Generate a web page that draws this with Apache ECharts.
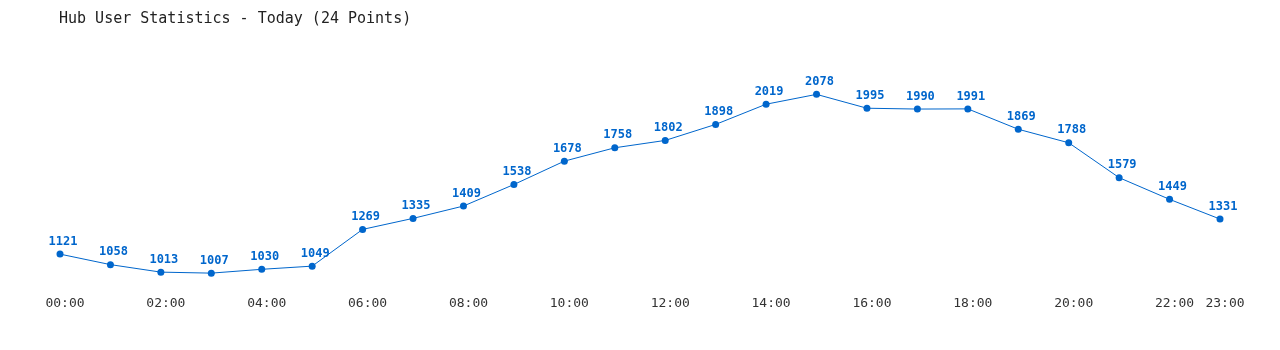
<!DOCTYPE html>
<html>
<head>
<meta charset="utf-8">
<script src="https://cdn.jsdelivr.net/npm/echarts@6/dist/echarts.min.js"></script>
<style>
html,body{margin:0;padding:0;background:#fff;}
#chart{width:1280px;height:350px;}
</style>
</head>
<body>
<div id="chart"></div>
<script>
const titleText = 'Hub User Statistics - Today (24 Points)';
const hours = ['00:00','01:00','02:00','03:00','04:00','05:00','06:00','07:00','08:00','09:00','10:00','11:00','12:00','13:00','14:00','15:00','16:00','17:00','18:00','19:00','20:00','21:00','22:00','23:00'];
const users = [1121,1058,1013,1007,1030,1049,1269,1335,1409,1538,1678,1758,1802,1898,2019,2078,1995,1990,1991,1869,1788,1579,1449,1331];

const mono = '"DejaVu Sans Mono","Liberation Mono",monospace';
const chart = echarts.init(document.getElementById('chart'), null, {renderer:'canvas'});
chart.setOption({
  animation:false,
  backgroundColor:'#ffffff',
  title:{
    text:titleText,
    left:54, top:7,
    textStyle:{fontFamily:mono, fontSize:15, fontWeight:'normal', color:'#222'}
  },
  grid:{left:60, right:60, top:74, height:217},
  xAxis:{
    type:'category',
    data:hours,
    boundaryGap:false,
    axisLine:{show:false},
    axisTick:{show:false},
    splitLine:{show:false},
    axisLabel:{
      interval:function(i){ return i%2===0 || i===hours.length-1; },
      margin:6,
      padding:[0,0,0,10],
      fontFamily:mono, fontSize:13, color:'#333'
    }
  },
  yAxis:{
    type:'value',
    min:900, max:2200,
    show:false,
    splitLine:{show:false}
  },
  series:[{
    type:'line',
    data:users,
    symbol:'circle',
    symbolSize:7,
    lineStyle:{color:'#0066cc', width:1},
    itemStyle:{color:'#0066cc'},
    label:{
      show:true,
      position:'top',
      distance:3,
      offset:[3,0],
      fontFamily:mono, fontSize:12, fontWeight:'bold', color:'#0066cc'
    }
  }]
});
</script>
</body>
</html>
